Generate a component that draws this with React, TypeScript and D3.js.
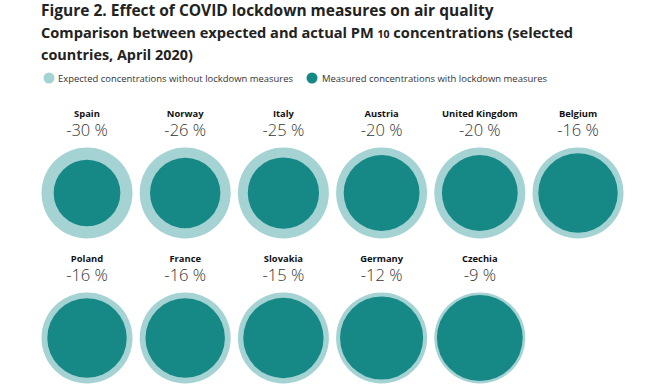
import * as d3 from "d3";

const countries = ["Spain", "Norway", "Italy", "Austria", "United Kingdom", "Belgium", "Poland", "France", "Slovakia", "Germany", "Czechia"];
const changes = [-30, -26, -25, -20, -20, -16, -16, -16, -15, -12, -9];
const legendLabels = ["Expected concentrations without lockdown measures", "Measured concentrations with lockdown measures"];

const LIGHT = "#a5d3d3";
const DARK = "#168886";
const FONT = "'Open Sans', sans-serif";

export default function App() {
  const width = 650;
  const height = 390;
  const perRow = 6;
  const outerR = 45.5;

  const col = d3.scaleLinear().domain([0, perRow - 1]).range([87, 578]);
  const row = d3.scaleLinear().domain([0, 1]).range([193, 338]);
  // inner radius relative to expected (100)
  const r = d3.scaleLinear().domain([0, 100]).range([0, outerR]);

  return (
    <svg width={width} height={height} style={{ position: "absolute", left: 0, top: 0, background: "#fff" }} fontFamily={FONT}>
      <text x={41} y={16} fontSize={15.5} fontWeight={700} fill="#222">
        Figure 2. Effect of COVID lockdown measures on air quality
      </text>
      <text x={41} y={38} fontSize={14.6} fontWeight={700} fill="#222" textLength={532} lengthAdjust="spacingAndGlyphs">
        Comparison between expected and actual PM <tspan fontSize={10.5}>10</tspan> concentrations (selected
      </text>
      <text x={41} y={60} fontSize={14.4} fontWeight={700} fill="#222">
        countries, April 2020)
      </text>
      <g fontSize={9.5} fill="#333">
        <circle cx={49} cy={78} r={5.5} fill={LIGHT} />
        <text x={58} y={81.5} textLength={235} lengthAdjust="spacingAndGlyphs">{legendLabels[0]}</text>
        <circle cx={312} cy={78} r={5.5} fill={DARK} />
        <text x={322} y={81.5} textLength={225} lengthAdjust="spacingAndGlyphs">{legendLabels[1]}</text>
      </g>
      {countries.map((c, i) => {
        const cx = col(i % perRow);
        const cy = row(Math.floor(i / perRow));
        const inner = r(100 + changes[i]) + 1.5;
        return (
          <g key={c} transform={`translate(${cx},${cy})`}>
            <text y={-76.5} textAnchor="middle" fontSize={9.4} fontWeight={700} fill="#111">
              {c}
            </text>
            <text y={-57} textAnchor="middle" fontSize={16.5} fontWeight={300} fill="#333">
              {`${changes[i]} %`}
            </text>
            <circle r={outerR} fill={LIGHT} />
            <circle r={inner} fill={DARK} />
          </g>
        );
      })}
    </svg>
  );
}
